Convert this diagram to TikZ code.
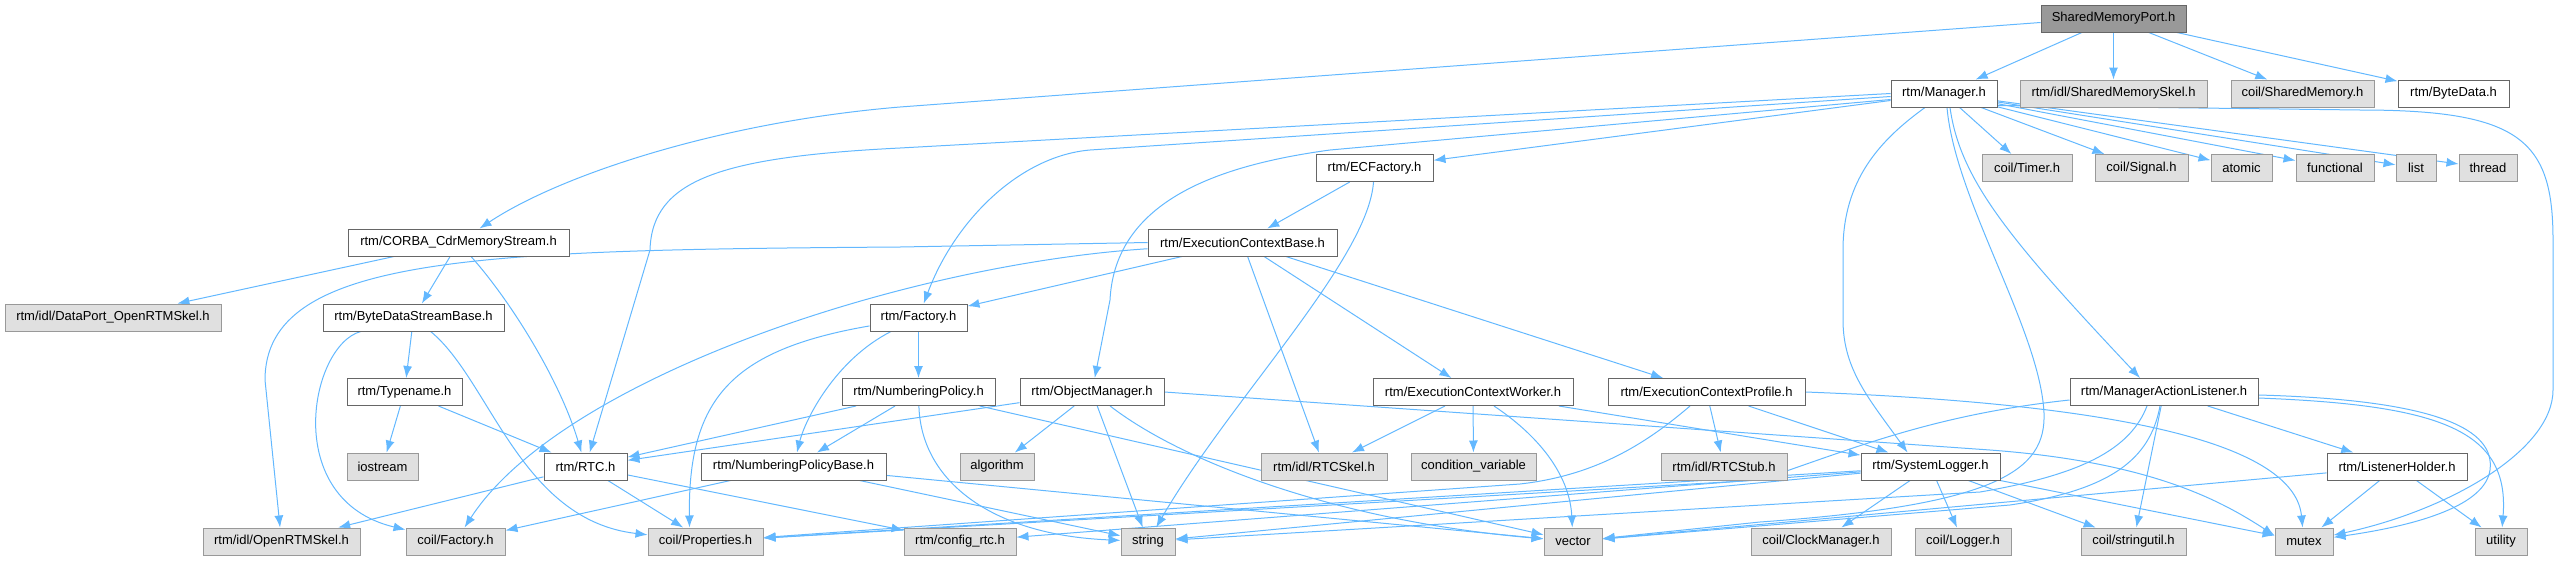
\documentclass[tikz,border=0pt]{standalone}
\usepackage{fontspec}
\setmainfont{Liberation Sans}
\usetikzlibrary{arrows.meta,backgrounds}
\definecolor{edgecol}{HTML}{63B8FF}
\definecolor{syscol}{HTML}{E0E0E0}
\definecolor{rootcol}{HTML}{999999}
\definecolor{framecol}{HTML}{666666}
\definecolor{sysframe}{HTML}{999999}
\begin{document}
\begin{tikzpicture}[x=1pt, y=-1pt, >={Latex[length=12pt,width=9pt]},
	hfile/.style={draw=framecol, fill=white, line width=1pt, minimum height=27pt, inner sep=0pt, font=\fontsize{13}{15}\selectfont},
	sysfile/.style={hfile, draw=sysframe, fill=syscol},
	rootfile/.style={hfile, fill=rootcol},
	inc/.style={->, draw=edgecol, line width=1pt}]
\useasboundingbox (0,0) rectangle (2562,560);

\node[rootfile, minimum width=145pt] (smp) at (2113.5,18.5) {SharedMemoryPort.h};

\node[hfile, minimum width=106pt] (mgr) at (1944,93.5) {rtm/Manager.h};
\node[sysfile, minimum width=187pt] (smskel) at (2113.5,93.5) {rtm/idl/SharedMemorySkel.h};
\node[sysfile, minimum width=143pt] (shm) at (2302.5,93.5) {coil/SharedMemory.h};
\node[hfile, minimum width=111pt] (bytedata) at (2453.5,93.5) {rtm/ByteData.h};

\node[hfile, minimum width=117pt] (ecfactory) at (1374.5,168) {rtm/ECFactory.h};
\node[sysfile, minimum width=90pt] (timer) at (2027,168) {coil/Timer.h};
\node[sysfile, minimum width=93pt] (signal) at (2141.5,168) {coil/Signal.h};
\node[sysfile, minimum width=61pt] (atomic) at (2241.5,168) {atomic};
\node[sysfile, minimum width=78pt] (functional) at (2335,168) {functional};
\node[sysfile, minimum width=40pt] (list) at (2416,168) {list};
\node[sysfile, minimum width=58pt] (thread) at (2488,168) {thread};

\node[hfile, minimum width=221pt] (cdr) at (458.5,242.5) {rtm/CORBA\_CdrMemoryStream.h};
\node[hfile, minimum width=189pt] (ecbase) at (1242.5,242.5) {rtm/ExecutionContextBase.h};

\node[sysfile, minimum width=216pt] (dataport) at (113,317.5) {rtm/idl/DataPort\_OpenRTMSkel.h};
\node[hfile, minimum width=181pt] (bdsb) at (413.5,317.5) {rtm/ByteDataStreamBase.h};
\node[hfile, minimum width=97pt] (factory) at (918.5,317.5) {rtm/Factory.h};

\node[hfile, minimum width=115pt] (typename) at (404.5,392) {rtm/Typename.h};
\node[hfile, minimum width=153pt] (numpol) at (918.5,392) {rtm/NumberingPolicy.h};
\node[hfile, minimum width=144pt] (objmgr) at (1092,392) {rtm/ObjectManager.h};
\node[hfile, minimum width=200pt] (ecworker) at (1473,392) {rtm/ExecutionContextWorker.h};
\node[hfile, minimum width=197pt] (ecprofile) at (1706.5,392) {rtm/ExecutionContextProfile.h};
\node[hfile, minimum width=188pt] (mal) at (2164,392) {rtm/ManagerActionListener.h};

\node[sysfile, minimum width=71pt] (iostream) at (382.5,466.5) {iostream};
\node[hfile, minimum width=83pt] (rtc) at (585.5,466.5) {rtm/RTC.h};
\node[hfile, minimum width=185pt] (numpolbase) at (793.5,466.5) {rtm/NumberingPolicyBase.h};
\node[sysfile, minimum width=74pt] (algorithm) at (997,466.5) {algorithm};
\node[sysfile, minimum width=126pt] (rtcskel) at (1324,466.5) {rtm/idl/RTCSkel.h};
\node[sysfile, minimum width=125pt] (condvar) at (1473.5,466.5) {condition\_variable};
\node[sysfile, minimum width=126pt] (rtcstub) at (1724,466.5) {rtm/idl/RTCStub.h};
\node[hfile, minimum width=139pt] (syslog) at (1930.5,466.5) {rtm/SystemLogger.h};
\node[hfile, minimum width=140pt] (lholder) at (2397,466.5) {rtm/ListenerHolder.h};

\node[sysfile, minimum width=157pt] (openrtm) at (281.5,541.5) {rtm/idl/OpenRTMSkel.h};
\node[sysfile, minimum width=99pt] (cfactory) at (455.5,541.5) {coil/Factory.h};
\node[sysfile, minimum width=115pt] (props) at (705.5,541.5) {coil/Properties.h};
\node[sysfile, minimum width=112pt] (config) at (960,541.5) {rtm/config\_rtc.h};
\node[sysfile, minimum width=54pt] (string) at (1148,541.5) {string};
\node[sysfile, minimum width=58pt] (vector) at (1573,541.5) {vector};
\node[sysfile, minimum width=140pt] (clock) at (1821,541.5) {coil/ClockManager.h};
\node[sysfile, minimum width=96pt] (logger) at (1963,541.5) {coil/Logger.h};
\node[sysfile, minimum width=105pt] (strutil) at (2133.5,541.5) {coil/stringutil.h};
\node[sysfile, minimum width=58pt] (mutex) at (2304,541.5) {mutex};
\node[sysfile, minimum width=52pt] (utility) at (2501,541.5) {utility};

\begin{scope}[on background layer]
\foreach \a/\b in {smp/mgr, smp/smskel, smp/shm, smp/bytedata,
	cdr/dataport, cdr/bdsb, bdsb/typename, typename/iostream, typename/rtc,
	rtc/openrtm, rtc/props, rtc/config,
	mgr/ecfactory, mgr/timer, mgr/signal, mgr/atomic, mgr/functional, mgr/list, mgr/thread,
	ecfactory/ecbase, ecbase/factory, ecbase/rtcskel, ecbase/ecworker, ecbase/ecprofile,
	factory/numpol, numpol/rtc, numpol/numpolbase, numpol/vector,
	numpolbase/cfactory, numpolbase/string, numpolbase/vector,
	objmgr/rtc, objmgr/algorithm, objmgr/string,
	ecworker/rtcskel, ecworker/condvar, ecworker/syslog,
	ecprofile/rtcstub, ecprofile/syslog,
	syslog/config, syslog/string, syslog/props, syslog/clock, syslog/logger, syslog/strutil, syslog/mutex,
	mal/lholder, mal/strutil, lholder/vector, lholder/mutex, lholder/utility}
{
	\draw[inc] (\a) -- (\b);
}
\draw[inc] ([yshift=-4pt]smp.west) -- (900,107) .. controls (720,122) and (560,175) .. (cdr);
\draw[inc] (cdr) .. controls (510,300) and (560,380) .. (rtc);
\draw[inc] (bdsb) .. controls (310,345) and (280,500) .. (cfactory);
\draw[inc] (bdsb) .. controls (490,380) and (520,520) .. (props);
\draw[inc] (factory) .. controls (835,360) and (805,420) .. (numpolbase);
\draw[inc] (factory) .. controls (730,350) and (688,400) .. ([xshift=-16pt]props.north);
\draw[inc] (numpol) .. controls (921,480) and (990,535) .. (string);
\draw[inc] (objmgr) .. controls (1180,460) and (1330,520) .. (vector);
\draw[inc] (objmgr.east) -- (1990,450) .. controls (2150,462) and (2220,500) .. ([yshift=6pt]mutex.west);
\draw[inc] (mgr.west) -- (900,148) .. controls (720,157) and (652,180) .. (650,250) -- (rtc);
\draw[inc] ([yshift=-3pt]mgr.west) -- (1090,150) .. controls (1020,156) and (955,220) .. (factory);
\draw[inc] ([yshift=-6pt]mgr.west) -- (1330,150) .. controls (1220,165) and (1115,200) .. (1110,300) -- (objmgr);
\draw[inc] ([xshift=-19pt]mgr.south) .. controls (1880,140) and (1843,180) .. (1843,250) -- (1843,320) .. controls (1843,370) and (1870,400) .. ([xshift=-23pt]syslog.north);
\draw[inc] ([xshift=3pt]mgr.south) .. controls (1955,200) and (2040,330) .. (2044,413) .. controls (2046,470) and (2000,505) .. (1760,522) -- (vector);
\draw[inc] ([xshift=6pt]mgr.south) .. controls (1960,180) and (2010,240) .. ([xshift=-24pt]mal.north);
\draw[inc] ([yshift=-12pt]mgr.east) -- (2360,110) .. controls (2520,110) and (2553,140) .. (2553,240) -- (2553,390) .. controls (2553,450) and (2450,510) .. (mutex);
\draw[inc] (ecfactory) .. controls (1368,260) and (1230,400) .. (string);
\draw[inc] (ecbase.west) -- (900,247) .. controls (480,250) and (265,255) .. (265,380) -- (openrtm);
\draw[inc] (ecbase) .. controls (900,265) and (560,380) .. (cfactory);
\draw[inc] (ecworker) .. controls (1545,440) and (1570,480) .. (vector);
\draw[inc] (ecprofile.east) .. controls (2150,405) and (2295,450) .. (mutex);
\draw[inc] (ecprofile) .. controls (1650,440) and (1600,475) .. (1520,484) -- (props);
\draw[inc] ([yshift=-8pt]mal.west) .. controls (1930,415) and (1850,450) .. (1760,480) -- (props);
\draw[inc] ([xshift=-17pt]mal.south) .. controls (2130,450) and (2080,475) .. (1980,492) -- (string);
\draw[inc] ([xshift=-4pt]mal.south) .. controls (2150,460) and (2110,490) .. (2010,505) -- (vector);
\draw[inc] ([yshift=-3pt]mal.east) .. controls (2440,400) and (2495,430) .. (2490,470) .. controls (2485,505) and (2420,525) .. (mutex);
\draw[inc] ([yshift=-6pt]mal.east) .. controls (2440,405) and (2510,430) .. (utility);
\end{scope}
\end{tikzpicture}
\end{document}
